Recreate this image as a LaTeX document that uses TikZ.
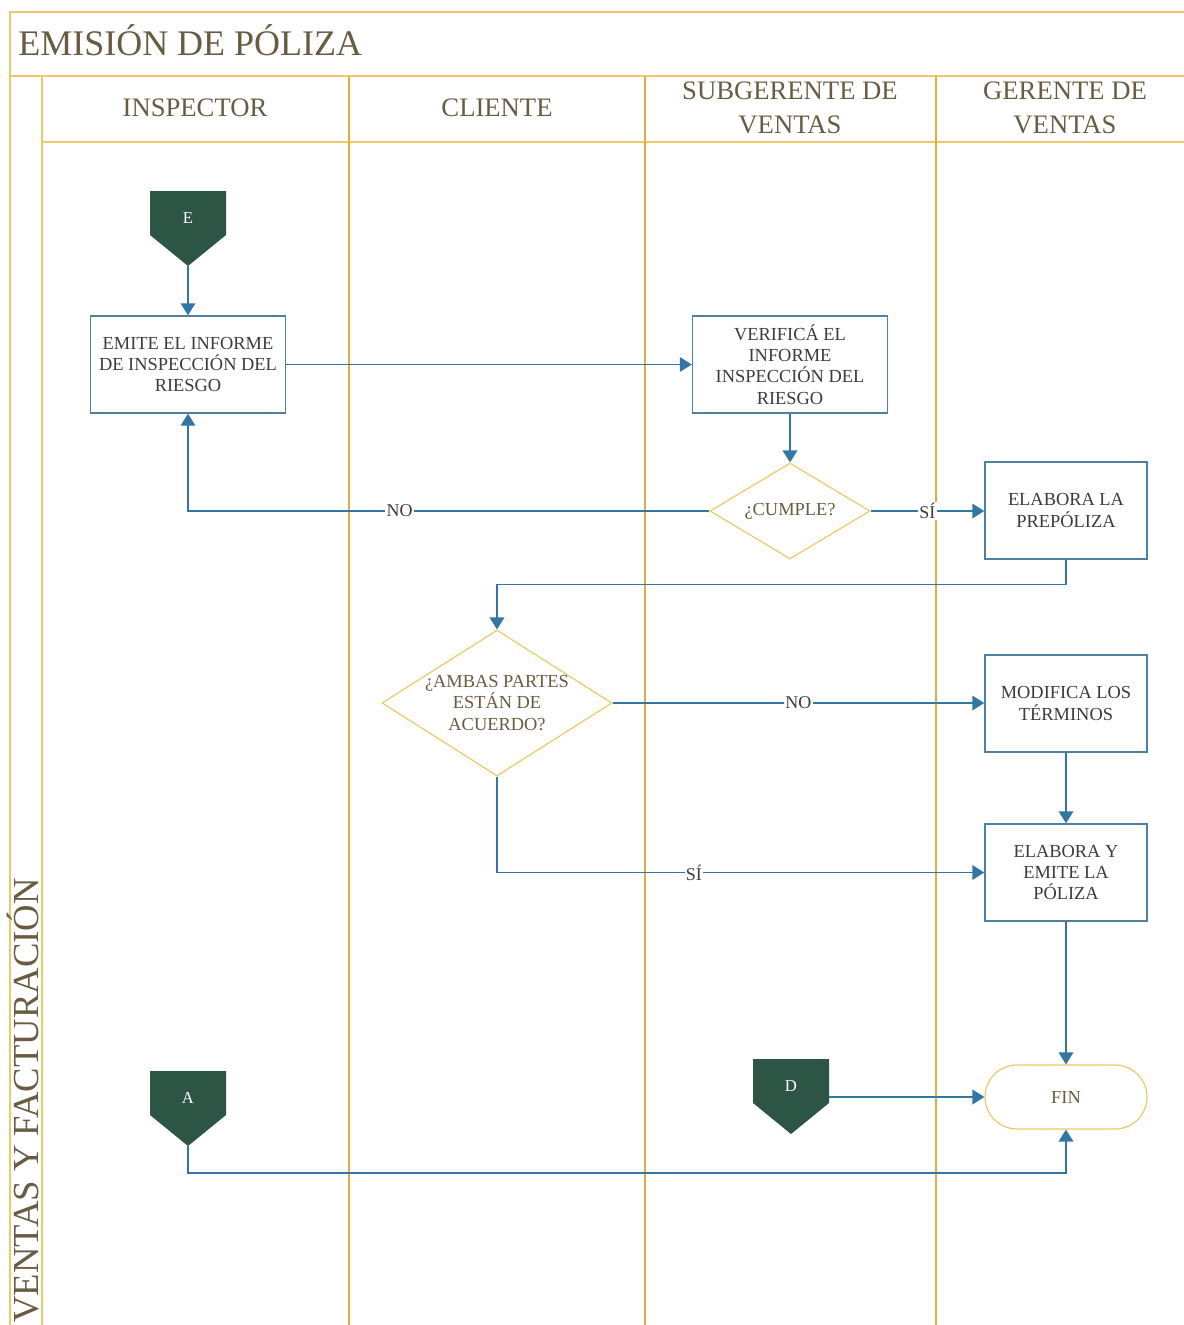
\documentclass[tikz,border=0pt]{standalone}
\usepackage{fontspec}
\setmainfont{Liberation Serif}
\usetikzlibrary{shapes.geometric,arrows.meta}
\definecolor{goldh}{RGB}{236,202,104}
\definecolor{goldv}{RGB}{228,172,62}
\definecolor{hdr}{RGB}{104,92,66}
\definecolor{boxb}{RGB}{80,128,160}
\definecolor{conncol}{RGB}{52,118,163}
\definecolor{pentcol}{RGB}{44,85,69}
\definecolor{btxt}{RGB}{60,60,60}
\newcommand{\offpg}[4]{%
  \fill[pentcol] (#2-38,#3) -- (#2+38,#3) -- (#2+38,#3+44) -- (#2,#3+75) -- (#2-38,#3+44) -- cycle;
  \node[pentlabel] (#1) at (#2,#3+27) {#4};
  \coordinate (#1tip) at (#2,#3+75);
  \coordinate (#1east) at (#2+38,#3+38);
}
\begin{document}
\begin{tikzpicture}[x=0.75pt,y=-0.75pt,
  laneh/.style={draw=goldh,line width=1.4pt},
  lanev/.style={draw=goldv,line width=1.4pt},
  procbox/.style={draw=boxb,line width=1.1pt,fill=white,minimum width=146.25pt,minimum height=72.75pt,align=center,font=\fontsize{13.8}{16}\selectfont,text=btxt,inner sep=1pt},
  procnarrow/.style={procbox,minimum width=121.5pt},
  decis/.style={diamond,draw=goldh,line width=0.9pt,fill=white,inner sep=0pt},
  dtext/.style={align=center,font=\fontsize{13.8}{16}\selectfont,text=hdr,inner sep=0pt},
  term/.style={draw=goldh,line width=0.9pt,fill=white,rounded corners=24pt,minimum width=121.5pt,minimum height=48pt,font=\fontsize{13.8}{16}\selectfont,text=hdr},
  connect/.style={draw=conncol,line width=1.1pt,-{Triangle[length=9pt,width=11pt]}},
  lbl/.style={fill=white,inner sep=1pt,font=\fontsize{13.5}{15}\selectfont,text=btxt},
  hdrtext/.style={align=center,font=\fontsize{20}{25.5}\selectfont,text=hdr},
  pentlabel/.style={text=white,font=\fontsize{12.5}{14}\selectfont,inner sep=0pt}
]
\useasboundingbox (0,0) rectangle (1184,1325);
\fill[white] (0,0) rectangle (1184,1325);

% pool frame
\draw[laneh] (10,1325) -- (10,12) -- (1184,12);
\draw[laneh] (10,76) -- (1184,76);
\draw[laneh] (42,142) -- (1184,142);
\draw[laneh] (42,76) -- (42,1325);
\draw[lanev] (349,76) -- (349,1325);
\draw[lanev] (645,76) -- (645,1325);
\draw[lanev] (936,76) -- (936,1325);

% titles
\node[anchor=base west,inner sep=0pt,font=\fontsize{27}{30}\selectfont,text=hdr] (title) at (18,55) {EMISIÓN DE PÓLIZA};
\node[rotate=90,anchor=base west,inner sep=0pt,font=\fontsize{27.5}{30}\selectfont,text=hdr] (pool) at (38,1323) {VENTAS Y FACTURACIÓN};
\node[hdrtext] (h1) at (195,108) {INSPECTOR};
\node[hdrtext] (h2) at (497,108) {CLIENTE};
\node[hdrtext] (h3) at (790,108) {SUBGERENTE DE\\VENTAS};
\node[hdrtext] (h4) at (1065,108) {GERENTE DE\\VENTAS};

% off-page connectors
\offpg{E}{188}{191}{E}
\offpg{A}{188}{1071}{A}
\offpg{D}{791}{1059}{D}

% process nodes
\node[procbox] (b1) at (188,364.5) {EMITE EL INFORME\\DE INSPECCIÓN DEL\\RIESGO};
\node[procbox] (b2) at (790,364.5) {VERIFICÁ EL\\INFORME\\INSPECCIÓN DEL\\RIESGO};
\node[decis,minimum width=120pt,minimum height=72pt] (d1) at (790,511) {};
\node[dtext] (d1t) at (d1) {¿CUMPLE?};
\node[procnarrow] (b3) at (1066,510.5) {ELABORA LA\\PREPÓLIZA};
\node[decis,minimum width=172.5pt,minimum height=109.5pt] (d2) at (497,703) {};
\node[dtext] (d2t) at (d2) {¿AMBAS PARTES\\ESTÁN DE\\ACUERDO?};
\node[procnarrow] (b4) at (1066,703.5) {MODIFICA LOS\\TÉRMINOS};
\node[procnarrow] (b5) at (1066,872.5) {ELABORA Y\\EMITE LA\\PÓLIZA};
\node[term] (fin) at (1066,1097) {FIN};

% connectors
\draw[connect] (Etip) -- (b1.north);
\draw[connect] (b1.east) -- (b2.west);
\draw[connect] (b2.south) -- (d1.north);
\draw[connect] (d1.west) -| node[lbl,pos=0.297] (no1) {NO} (b1.south);
\draw[connect] (d1.east) -- node[lbl] (si1) {SÍ} (d1.east -| b3.west);
\draw[connect] (b3.south) -- ++(0,25) -| (d2.north);
\draw[connect] (d2.east) -- node[lbl] (no2) {NO} (d2.east -| b4.west);
\draw[connect] (d2.south) |- node[lbl,pos=0.702] (si2) {SÍ} (b5.west);
\draw[connect] (b4.south) -- (b5.north);
\draw[connect] (b5.south) -- (fin.north);
\draw[connect] (Deast) -- (Deast -| fin.west);
\draw[connect] (Atip) -- ++(0,27) -| (fin.south);
\end{tikzpicture}
\end{document}
